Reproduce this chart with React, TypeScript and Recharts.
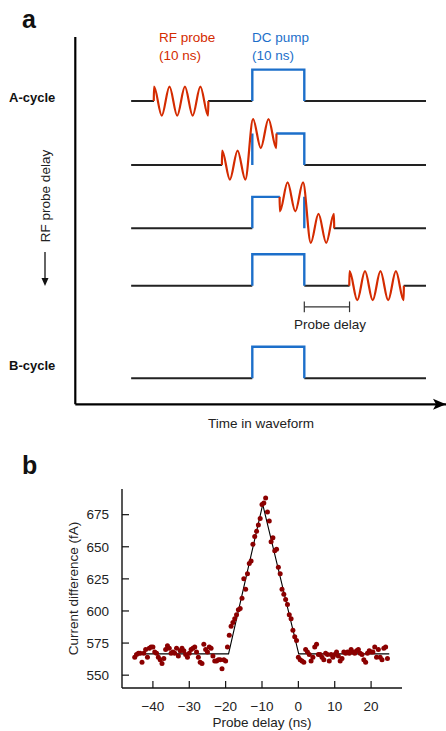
import React from 'react'
import {
  ComposedChart,
  Line,
  Scatter,
  XAxis,
  YAxis,
  ReferenceLine,
  ReferenceDot,
} from 'recharts'

// ---------- panel a: pump/probe timing schematic (time in ns, height in pulse units)
const rowLabels = ['A-cycle', '', '', '', 'B-cycle']
const probeStartNs: (number | null)[] = [-18.9, -5.8, 5.3, 18.7, null]
const probePhase = [1, 1, -1, 1, 0]
const rfExtrema = [1, -1, 1, -1, 1, -1, 1, -1] // 3.5 RF cycles, peak to trough
const pulseOnNs = 0
const pulseOffNs = 10
const probeLenNs = 10.4
const traceStartNs = -23.3
const traceEndNs = 33.4
const rfAmp = 0.46

// ---------- panel b: measured current difference vs probe delay
const delayNs = [
  -45, -44.5, -44, -43.5, -43, -42.5, -42, -41.5, -41, -40.5,
  -40, -39.5, -39, -38.5, -38, -37.5, -37, -36.5, -36, -35.5,
  -35, -34.5, -34, -33.5, -33, -32.5, -32, -31.5, -31, -30.5,
  -30, -29.5, -29, -28.5, -28, -27.5, -27, -26.5, -26, -25.5,
  -25, -24.5, -24, -23.5, -23, -22.5, -22, -21.5, -21, -20.5,
  -20, -19.5, -19, -18.5, -18, -17.5, -17, -16.5, -16, -15.5,
  -15, -14.5, -14, -13.5, -13, -12.5, -12, -11.5, -11, -10.5,
  -10, -9.5, -9, -8.5, -8, -7.5, -7, -6.5, -6, -5.5,
  -5, -4.5, -4, -3.5, -3, -2.5, -2, -1.5, -1, -0.5,
  0, 0.5, 1, 1.5, 2, 2.5, 3, 3.5, 4, 4.5,
  5, 5.5, 6, 6.5, 7, 7.5, 8, 8.5, 9, 9.5,
  10, 10.5, 11, 11.5, 12, 12.5, 13, 13.5, 14, 14.5,
  15, 15.5, 16, 16.5, 17, 17.5, 18, 18.5, 19, 19.5,
  20, 20.5, 21, 21.5, 22, 22.5, 23, 23.5, 24, 24.5,
]
const currentFa = [
  564, 566, 567, 567, 560, 567, 570, 564, 571, 572,
  572, 568, 567, 564, 562, 559, 563, 570, 573, 571,
  567, 568, 567, 571, 565, 569, 571, 569, 566, 564,
  567, 570, 571, 572, 568, 564, 560, 559, 574, 570,
  568, 572, 571, 565, 561, 561, 562, 562, 555, 562,
  561, 572, 581, 588, 591, 594, 597, 601, 602, 610,
  625, 617, 629, 637, 639, 652, 658, 662, 667, 672,
  683, 684, 688, 677, 670, 654, 657, 647, 648, 634,
  629, 617, 613, 609, 605, 597, 594, 585, 580, 577,
  564, 562, 561, 560, 570, 568, 566, 561, 564, 572,
  574, 566, 566, 564, 562, 567, 566, 561, 566, 564,
  566, 568, 565, 561, 563, 568, 567, 568, 567, 570,
  568, 567, 569, 570, 567, 566, 562, 560, 567, 569,
  568, 568, 572, 564, 570, 564, 562, 571, 572, 563,
]
const fitDelayNs = [-45, -19.2, -9.8, 0.1, 25]
const fitCurrentFa = [566.6, 566.6, 683, 566.6, 566.6]
const xTicks = [-40, -30, -20, -10, 0, 10, 20]
const yTicks = [550, 575, 600, 625, 650, 675]

// layout of the schematic (not data)
const rowBase = [8.8, 6.77, 4.76, 2.94, 0]
const timeDomain = [-34.04, 37.25]
const levelDomain = [-0.825, 10.835]
const bracketLevel = 2.27

const FONT = '"Liberation Sans", Arial, Helvetica, sans-serif'
const RED = '#d42b00'
const BLUE = '#1c6fca'
const INK = '#222'

type Pt = { t: number; y: number | null }

function cutOut(spans: number[][], cut: number[] | null) {
  if (!cut) return spans
  const out: number[][] = []
  spans.forEach(([a, b]) => {
    if (cut[1] <= a || cut[0] >= b) {
      out.push([a, b])
      return
    }
    if (cut[0] > a) out.push([a, cut[0]])
    if (cut[1] < b) out.push([cut[1], b])
  })
  return out
}

function joinRuns(runs: Pt[][]) {
  const out: Pt[] = []
  runs.forEach((r, i) => {
    if (i > 0) out.push({ t: r[0].t, y: null })
    out.push(...r)
  })
  return out
}

const rows = rowLabels.map((label, i) => {
  const base = rowBase[i]
  const ps = probeStartNs[i]
  const probe = ps == null ? null : [ps, ps + probeLenNs]
  const lvl = (t: number) => base + (t > pulseOnNs && t < pulseOffNs ? 1 : 0)

  const flat = cutOut(cutOut([[traceStartNs, traceEndNs]], [pulseOnNs, pulseOffNs]), probe)
  const black = joinRuns(flat.map(([a, b]) => [{ t: a, y: base }, { t: b, y: base }]))

  const tops = cutOut([[pulseOnNs, pulseOffNs]], probe)
  const runs: Pt[][] = []
  let run: Pt[] = [{ t: pulseOnNs, y: base }, { t: pulseOnNs, y: base + 1 }]
  tops.forEach(([a, b]) => {
    if (a > pulseOnNs) {
      runs.push(run)
      run = [{ t: a, y: base + 1 }]
    }
    run.push({ t: b, y: base + 1 })
  })
  const lastEnd = tops.length ? tops[tops.length - 1][1] : pulseOnNs
  if (lastEnd < pulseOffNs) {
    runs.push(run)
    run = [{ t: pulseOffNs, y: base + 1 }]
  }
  run.push({ t: pulseOffNs, y: base })
  runs.push(run)
  const blue = joinRuns(runs)

  let red: Pt[] = []
  if (probe) {
    const step = probeLenNs / (rfExtrema.length - 1)
    red = [
      { t: probe[0] - 0.05, y: lvl(probe[0]) },
      ...rfExtrema.map((s, k) => {
        const t = probe[0] + k * step
        return { t, y: lvl(t) + probePhase[i] * s * rfAmp }
      }),
      { t: probe[1] + 0.05, y: lvl(probe[1]) },
    ]
  }
  return { label, black, blue, red }
})

const points = delayNs.map((x, i) => ({ x, y: currentFa[i] }))
const fit = fitDelayNs.map((x, i) => ({ x, y: fitCurrentFa[i] }))

const minus = (v: number) => String(v).replace('-', '\u2212')

const arrowHead = (p: any) => (
  <path d={`M${p.cx},${p.cy} l-13,-5.5 l3,5.5 l-3,5.5 z`} fill="#000" />
)

const lineProps = {
  dot: false,
  activeDot: false,
  isAnimationActive: false,
  connectNulls: false,
  legendType: 'none' as const,
}

function Schematic() {
  const lastProbe = probeStartNs[3] as number
  return (
    <ComposedChart width={446} height={440} margin={{ top: 37, right: 0, bottom: 35.7, left: 75.3 }}>
      <XAxis type="number" dataKey="t" domain={timeDomain} hide allowDataOverflow />
      <YAxis type="number" dataKey="y" domain={levelDomain} hide allowDataOverflow />
      <ReferenceLine x={timeDomain[0]} stroke="#000" strokeWidth={2.2} />
      <ReferenceLine y={levelDomain[0]} stroke="#000" strokeWidth={2.2} />
      <ReferenceDot x={timeDomain[1]} y={levelDomain[0]} r={0} shape={arrowHead} />
      {rows.map((r, i) => (
        <Line key={`k${i}`} data={r.black} dataKey="y" type="linear" stroke={INK} strokeWidth={2} {...lineProps} />
      ))}
      {rows.map((r, i) => (
        <Line key={`b${i}`} data={r.blue} dataKey="y" type="linear" stroke={BLUE} strokeWidth={2.4} {...lineProps} />
      ))}
      {rows.map((r, i) =>
        r.red.length ? (
          <Line key={`r${i}`} data={r.red} dataKey="y" type="monotone" stroke={RED} strokeWidth={2.2} {...lineProps} />
        ) : null
      )}
      <ReferenceLine
        segment={[{ x: pulseOffNs, y: bracketLevel }, { x: lastProbe, y: bracketLevel }]}
        stroke="#333"
        strokeWidth={1.2}
      />
      <ReferenceLine
        segment={[{ x: pulseOffNs, y: bracketLevel - 0.17 }, { x: pulseOffNs, y: bracketLevel + 0.17 }]}
        stroke="#333"
        strokeWidth={1.2}
      />
      <ReferenceLine
        segment={[{ x: lastProbe, y: bracketLevel - 0.17 }, { x: lastProbe, y: bracketLevel + 0.17 }]}
        stroke="#333"
        strokeWidth={1.2}
      />
    </ComposedChart>
  )
}

function DelayScan() {
  const axisLine = { stroke: '#111', strokeWidth: 1.4 }
  const tickLine = { stroke: '#111', strokeWidth: 1.2 }
  const tick = { fill: '#222', fontSize: 13.5, fontFamily: FONT }
  return (
    <ComposedChart width={446} height={291} margin={{ top: 49, right: 44, bottom: 0, left: 0 }}>
      <XAxis
        type="number"
        dataKey="x"
        domain={[-48.5, 28.5]}
        ticks={xTicks}
        interval={0}
        tickFormatter={minus}
        tickSize={-7}
        tickMargin={20}
        height={43}
        axisLine={axisLine}
        tickLine={tickLine}
        tick={tick}
        allowDataOverflow
      />
      <XAxis
        xAxisId="top"
        orientation="top"
        type="number"
        domain={[-48.5, 28.5]}
        ticks={xTicks}
        interval={0}
        tickSize={-7}
        height={0}
        axisLine={axisLine}
        tickLine={tickLine}
        tick={false}
        allowDataOverflow
      />
      <YAxis
        type="number"
        dataKey="y"
        domain={[540, 695]}
        ticks={yTicks}
        interval={0}
        tickSize={-7}
        tickMargin={20}
        width={122}
        axisLine={axisLine}
        tickLine={tickLine}
        tick={tick}
        allowDataOverflow
      />
      <YAxis
        yAxisId="right"
        orientation="right"
        type="number"
        domain={[540, 695]}
        ticks={yTicks}
        interval={0}
        tickSize={-7}
        width={0}
        axisLine={axisLine}
        tickLine={tickLine}
        tick={false}
        allowDataOverflow
      />
      <Line data={fit} dataKey="y" type="linear" stroke="#000" strokeWidth={1.1} {...lineProps} />
      <Scatter
        data={points}
        dataKey="y"
        isAnimationActive={false}
        shape={(p: any) => <circle cx={p.cx} cy={p.cy} r={2.5} fill="#8b0000" />}
      />
    </ComposedChart>
  )
}

export default function App() {
  const txt = { fontFamily: FONT, fontSize: 13.5, fill: INK }
  return (
    <div style={{ position: 'relative', width: 446, height: 731, background: '#fff', overflow: 'hidden' }}>
      <style>{'body{margin:0}'}</style>
      <div style={{ position: 'absolute', left: 0, top: 0 }}>
        <Schematic />
      </div>
      <div style={{ position: 'absolute', left: 0, top: 440 }}>
        <DelayScan />
      </div>
      <svg width={446} height={731} style={{ position: 'absolute', left: 0, top: 0, pointerEvents: 'none' }}>
        <text x={22} y={28} style={{ ...txt, fontSize: 25, fontWeight: 700, fill: '#111' }}>a</text>
        <text x={22} y={474} style={{ ...txt, fontSize: 25, fontWeight: 700, fill: '#111' }}>b</text>
        <text x={159} y={42} style={{ ...txt, fill: RED }}>RF probe</text>
        <text x={159} y={60} style={{ ...txt, fill: RED }}>(10 ns)</text>
        <text x={252} y={42} style={{ ...txt, fill: BLUE }}>DC pump</text>
        <text x={252} y={60} style={{ ...txt, fill: BLUE }}>(10 ns)</text>
        <text x={9} y={102} style={{ ...txt, fontSize: 13, fontWeight: 700, fill: '#111' }}>{rows[0].label}</text>
        <text x={9} y={370} style={{ ...txt, fontSize: 13, fontWeight: 700, fill: '#111' }}>{rows[4].label}</text>
        <text x={50} y={196} textAnchor="middle" transform="rotate(-90 50 196)" style={txt}>RF probe delay</text>
        <line x1={45} y1={252} x2={45} y2={280} stroke="#111" strokeWidth={1.3} />
        <path d="M45,286 l-3.5,-8 l7,0 z" fill="#111" />
        <text x={330} y={329} textAnchor="middle" style={txt}>Probe delay</text>
        <text x={261} y={428} textAnchor="middle" style={txt}>Time in waveform</text>
        <text x={77.5} y={588.5} textAnchor="middle" transform="rotate(-90 77.5 588.5)" style={txt}>Current difference (fA)</text>
        <text x={262} y={727} textAnchor="middle" style={txt}>Probe delay (ns)</text>
      </svg>
    </div>
  )
}
